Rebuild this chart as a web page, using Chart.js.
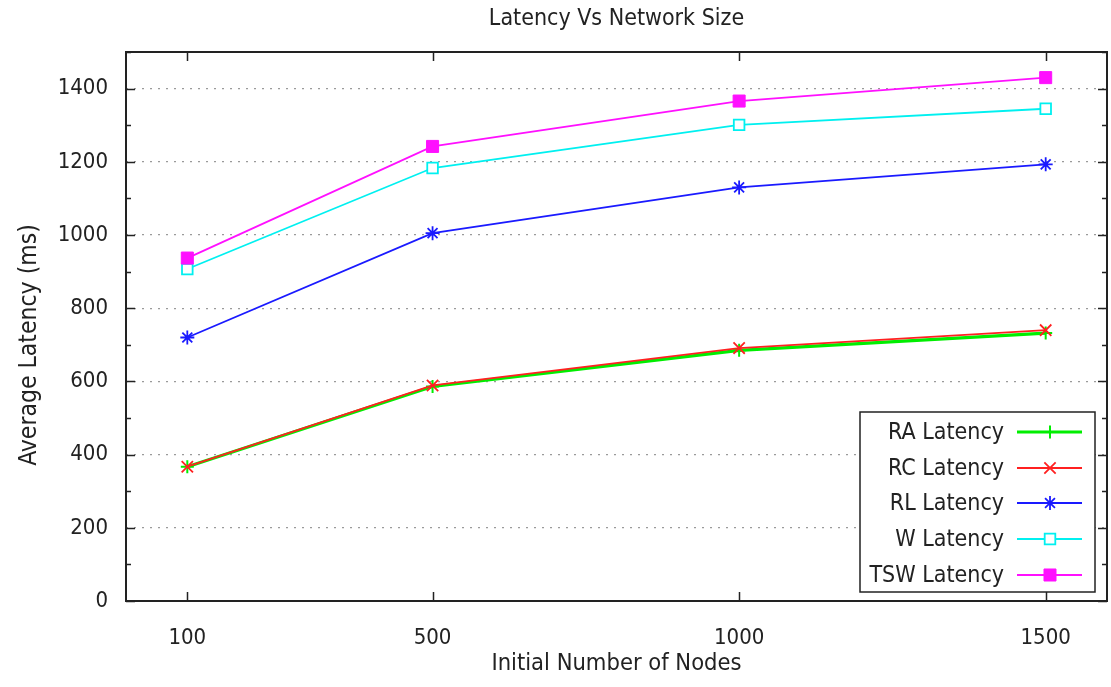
<!DOCTYPE html>
<html>
<head>
<meta charset="utf-8">
<title>Latency Vs Network Size</title>
<script src="https://cdn.jsdelivr.net/npm/chart.js@4/dist/chart.umd.min.js"></script>
<style>
  html, body { margin: 0; padding: 0; background: #ffffff; }
  #wrap { width: 1111px; height: 687px; position: relative; }
</style>
</head>
<body>
<div id="wrap"><canvas id="c" width="1111" height="687"></canvas></div>
<script>
// Initial number of nodes in the network (x positions)
const nodes = [100, 500, 1000, 1500];
const xTickValues = [100, 500, 1000, 1500];

// Average latency (ms) per protocol
const raLatency  = [367, 586, 685, 732];
const rcLatency  = [367, 589, 691, 740];
const rlLatency  = [720, 1005, 1130, 1193];
const wLatency   = [907, 1183, 1301, 1345];
const tswLatency = [937, 1242, 1366, 1430];

const seriesNames = ['RA Latency', 'RC Latency', 'RL Latency', 'W Latency', 'TSW Latency'];
const yAxisTitle = 'Average Latency (ms)';

const FONT = "'DejaVu Sans Condensed', 'Liberation Sans Narrow', 'DejaVu Sans', sans-serif";
const TEXT = '#222222';

function pts(values) {
  return nodes.map((n, i) => ({ x: n, y: values[i] }));
}

const datasets = [
  { label: seriesNames[0], data: pts(raLatency), borderColor: '#00ee00', backgroundColor: '#00ee00',
    borderWidth: 3.2, pointStyle: 'cross', pointRadius: 6.5, pointBorderWidth: 2, order: 5 },
  { label: seriesNames[1], data: pts(rcLatency), borderColor: '#ff2020', backgroundColor: '#ff2020',
    borderWidth: 1.8, pointStyle: 'crossRot', pointRadius: 8, pointBorderWidth: 1.8, order: 4 },
  { label: seriesNames[2], data: pts(rlLatency), borderColor: '#1a1aff', backgroundColor: '#1a1aff',
    borderWidth: 1.8, pointStyle: 'star', pointRadius: 7, pointBorderWidth: 1.8, order: 3 },
  { label: seriesNames[3], data: pts(wLatency), borderColor: '#00f0f0', backgroundColor: '#ffffff',
    borderWidth: 1.8, pointStyle: 'rect', pointRadius: 7.5, pointBorderWidth: 1.8, order: 2 },
  { label: seriesNames[4], data: pts(tswLatency), borderColor: '#ff10ff', backgroundColor: '#ff10ff',
    borderWidth: 1.8, pointStyle: 'rect', pointRadius: 8.5, pointBorderWidth: 1, order: 1 }
];
datasets.forEach(d => {
  d.pointBorderColor = d.borderColor;
  d.pointBackgroundColor = d.backgroundColor;
  d.pointHoverRadius = d.pointRadius;
  d.tension = 0;
  d.fill = false;
});

// Frame round the plot with inward tick marks on all four sides, plus the y-axis title
const framePlugin = {
  id: 'frame',
  afterDatasetsDraw(chart) {
    const { ctx, chartArea: a, scales } = chart;
    ctx.save();
    ctx.strokeStyle = '#222222';
    ctx.lineWidth = 1.5;
    ctx.beginPath();
    scales.y.ticks.forEach(t => {
      const y = Math.round(scales.y.getPixelForValue(t.value)) + 0.5;
      const len = t.value % 200 === 0 ? 9 : 5;
      ctx.moveTo(a.left, y); ctx.lineTo(a.left + len, y);
      ctx.moveTo(a.right, y); ctx.lineTo(a.right - len, y);
    });
    xTickValues.forEach(v => {
      const x = Math.round(scales.x.getPixelForValue(v)) + 0.5;
      ctx.moveTo(x, a.bottom); ctx.lineTo(x, a.bottom - 9);
      ctx.moveTo(x, a.top); ctx.lineTo(x, a.top + 9);
    });
    ctx.stroke();
    ctx.lineWidth = 2;
    ctx.strokeRect(a.left, a.top, a.right - a.left, a.bottom - a.top);

    ctx.translate(30, 345);
    ctx.rotate(-Math.PI / 2);
    ctx.font = '24.5px ' + FONT;
    ctx.fillStyle = TEXT;
    ctx.textAlign = 'center';
    ctx.textBaseline = 'middle';
    ctx.fillText(yAxisTitle, 0, 0);
    ctx.restore();
  }
};

// Key box in the lower right corner: text on the left, line sample with marker on the right
const keyPlugin = {
  id: 'keyBox',
  afterDraw(chart) {
    const { ctx } = chart;
    const box = { left: 860, top: 412, right: 1095, bottom: 592 };
    const rowY = [432, 468, 503, 539, 575];
    ctx.save();
    ctx.fillStyle = '#ffffff';
    ctx.fillRect(box.left, box.top, box.right - box.left, box.bottom - box.top);
    ctx.strokeStyle = '#222222';
    ctx.lineWidth = 1.5;
    ctx.strokeRect(box.left, box.top, box.right - box.left, box.bottom - box.top);
    ctx.font = '23px ' + FONT;
    ctx.textAlign = 'right';
    ctx.textBaseline = 'middle';
    chart.data.datasets.forEach((d, i) => {
      const y = rowY[i];
      ctx.fillStyle = TEXT;
      ctx.fillText(d.label, 1004, y + 1);
      ctx.strokeStyle = d.borderColor;
      ctx.lineWidth = d.borderWidth;
      ctx.beginPath();
      ctx.moveTo(1017, y); ctx.lineTo(1082, y);
      ctx.stroke();
      ctx.fillStyle = d.pointBackgroundColor;
      ctx.strokeStyle = d.pointBorderColor;
      ctx.lineWidth = d.pointBorderWidth;
      Chart.helpers.drawPoint(ctx, {
        pointStyle: d.pointStyle, radius: d.pointRadius, rotation: 0, borderWidth: d.pointBorderWidth
      }, 1050, y);
    });
    ctx.restore();
  }
};

new Chart(document.getElementById('c'), {
  type: 'line',
  data: { datasets },
  options: {
    responsive: false,
    animation: false,
    events: [],
    layout: { autoPadding: false, padding: { top: 0, left: 0, right: 4, bottom: 0 } },
    plugins: {
      legend: { display: false },
      tooltip: { enabled: false },
      title: {
        display: true,
        fullSize: false,
        text: 'Latency Vs Network Size',
        color: TEXT,
        font: { family: FONT, size: 23, weight: 'normal', lineHeight: 1.2 },
        padding: { top: 5, bottom: 19.4 }
      }
    },
    scales: {
      x: {
        type: 'linear',
        min: 0,
        max: 1600,
        afterFit(s) { s.height = 86; s.paddingLeft = 0; s.paddingRight = 0; },
        afterBuildTicks(s) { s.ticks = xTickValues.map(v => ({ value: v })); },
        grid: { display: false, drawTicks: false },
        border: { display: false },
        ticks: {
          color: TEXT, font: { family: FONT, size: 22 }, padding: 24, autoSkip: false, maxRotation: 0,
          callback: v => String(v)
        },
        title: {
          display: true,
          text: 'Initial Number of Nodes',
          color: TEXT,
          font: { family: FONT, size: 23.5, weight: 'normal', lineHeight: 1.2 },
          padding: { top: 0, bottom: 9 }
        }
      },
      y: {
        type: 'linear',
        min: 0,
        max: 1500,
        afterFit(s) { s.width = 126; s.paddingTop = 0; s.paddingBottom = 0; },
        grid: {
          drawTicks: false,
          lineWidth: 1.2,
          color: c => (c.tick && c.tick.value % 200 === 0 && c.tick.value > 0 && c.tick.value < 1500) ? '#9a9a9a' : 'rgba(0,0,0,0)'
        },
        border: { display: false, dash: [2, 6] },
        ticks: {
          stepSize: 100,
          autoSkip: false,
          color: TEXT,
          padding: 18,
          font: { family: FONT, size: 22 },
          callback: v => (v % 200 === 0 ? String(v) : '')
        }
      }
    }
  },
  plugins: [framePlugin, keyPlugin]
});
</script>
</body>
</html>
